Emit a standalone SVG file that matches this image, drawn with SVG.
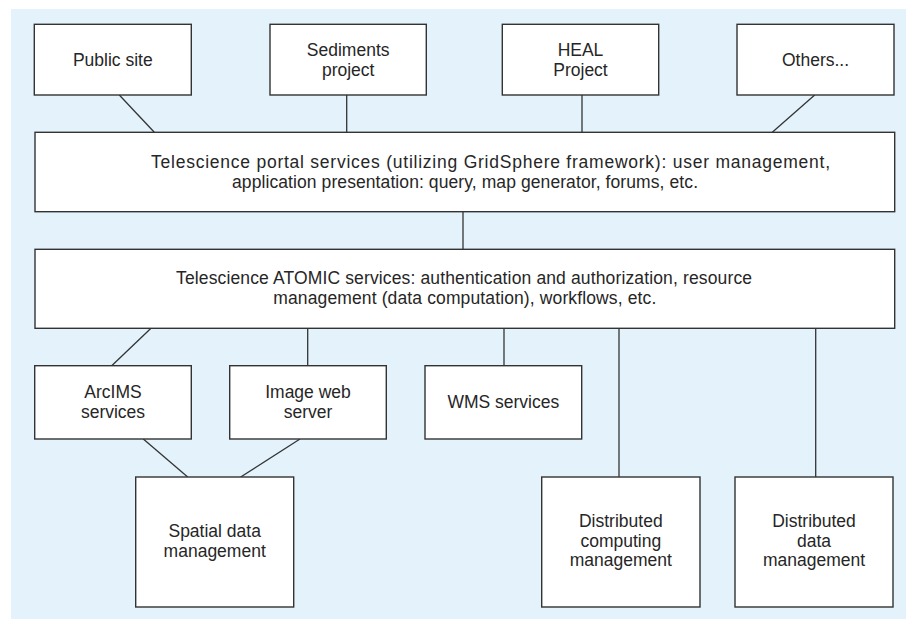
<svg xmlns="http://www.w3.org/2000/svg" width="906" height="620" viewBox="0 0 906 620">
  <style>
    .box { fill: #ffffff; stroke: #333333; stroke-width: 1.4; }
    .edge { fill: none; stroke: #333333; stroke-width: 1.3; }
    text { font-family: "Liberation Sans", Arial, sans-serif; font-size: 17.5px; fill: #262626; text-anchor: middle; }
  </style>
  <rect x="0" y="0" width="906" height="620" fill="#ffffff"/>
  <rect x="11" y="9" width="895" height="610" fill="#e4f3fb"/>

  <g id="connectors">
    <line class="edge" x1="119.3" y1="95" x2="154.3" y2="132.3"/>
    <line class="edge" x1="346.7" y1="95" x2="346.7" y2="132.3"/>
    <line class="edge" x1="582" y1="95" x2="582" y2="132.3"/>
    <line class="edge" x1="814.7" y1="95" x2="772.3" y2="132.3"/>
    <line class="edge" x1="463" y1="211.7" x2="463" y2="249.3"/>
    <line class="edge" x1="151" y1="328.3" x2="111.7" y2="365.7"/>
    <line class="edge" x1="307.7" y1="328.3" x2="307.7" y2="365.7"/>
    <line class="edge" x1="504" y1="328.3" x2="504" y2="365.7"/>
    <line class="edge" x1="619" y1="328.3" x2="619" y2="477"/>
    <line class="edge" x1="815.7" y1="328.3" x2="815.7" y2="477"/>
    <line class="edge" x1="143.3" y1="439" x2="187.7" y2="477"/>
    <line class="edge" x1="300" y1="439" x2="240.7" y2="477"/>
  </g>

  <g id="public-site">
    <rect class="box" x="34.3" y="24.3" width="157" height="70.7"/>
    <text x="112.8" y="66">Public site</text>
  </g>
  <g id="sediments-project">
    <rect class="box" x="270" y="24.3" width="156.3" height="70.7"/>
    <text x="348.2" y="56">Sediments</text>
    <text x="348.2" y="75.5">project</text>
  </g>
  <g id="heal-project">
    <rect class="box" x="502.3" y="24.3" width="156.4" height="70.7"/>
    <text x="580.5" y="56">HEAL</text>
    <text x="580.5" y="75.5">Project</text>
  </g>
  <g id="others">
    <rect class="box" x="737" y="24.3" width="157" height="70.7"/>
    <text x="815.5" y="66">Others...</text>
  </g>

  <g id="portal-services">
    <rect class="box" x="35" y="132.3" width="859.7" height="79.4"/>
    <text x="490.5" y="167.5" textLength="679" lengthAdjust="spacing">Telescience portal services (utilizing GridSphere framework): user management,</text>
    <text x="465" y="187.5" textLength="466" lengthAdjust="spacing">application presentation: query, map generator, forums, etc.</text>
  </g>

  <g id="atomic-services">
    <rect class="box" x="35" y="249.3" width="859.7" height="79"/>
    <text x="464" y="284" textLength="576" lengthAdjust="spacing">Telescience ATOMIC services: authentication and authorization, resource</text>
    <text x="464.8" y="304" textLength="383" lengthAdjust="spacing">management (data computation), workflows, etc.</text>
  </g>

  <g id="arcims-services">
    <rect class="box" x="34.7" y="365.7" width="156.6" height="73.3"/>
    <text x="113" y="398">ArcIMS</text>
    <text x="113" y="417.5">services</text>
  </g>
  <g id="image-web-server">
    <rect class="box" x="229.7" y="365.7" width="156.6" height="73.3"/>
    <text x="308" y="398">Image web</text>
    <text x="308" y="417.5">server</text>
  </g>
  <g id="wms-services">
    <rect class="box" x="425" y="365.7" width="156.7" height="73.3"/>
    <text x="503.3" y="407.5">WMS services</text>
  </g>

  <g id="spatial-data-management">
    <rect class="box" x="135.7" y="477" width="158" height="130"/>
    <text x="214.7" y="537.3">Spatial data</text>
    <text x="214.7" y="556.8">management</text>
  </g>
  <g id="distributed-computing-management">
    <rect class="box" x="541.7" y="477" width="158.3" height="130"/>
    <text x="620.8" y="527.3">Distributed</text>
    <text x="620.8" y="546.8">computing</text>
    <text x="620.8" y="566.3">management</text>
  </g>
  <g id="distributed-data-management">
    <rect class="box" x="735" y="477" width="158" height="130"/>
    <text x="814" y="527.3">Distributed</text>
    <text x="814" y="546.8">data</text>
    <text x="814" y="566.3">management</text>
  </g>
</svg>
